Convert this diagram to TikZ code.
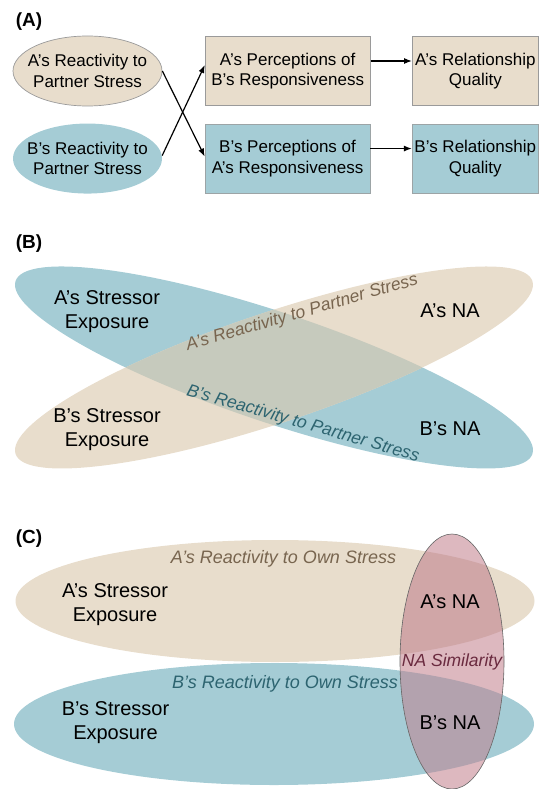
\documentclass[tikz,border=0pt]{standalone}
\usepackage{fontspec}
\setmainfont{Liberation Sans}
\usepackage{tikz}
\usetikzlibrary{positioning,shapes.geometric,arrows.meta}
\definecolor{tanfill}{HTML}{E8DDCC}
\definecolor{bluefill}{HTML}{A5CCD5}
\definecolor{mixfill}{HTML}{C6CABD}
\definecolor{pinkfill}{HTML}{DDB8BF}
\definecolor{pinktan}{HTML}{D0A6A7}
\definecolor{pinkblue}{HTML}{B3A2AE}
\definecolor{brownlbl}{HTML}{78654F}
\definecolor{teallbl}{HTML}{2D6470}
\definecolor{maroonlbl}{HTML}{6A2A3F}
\definecolor{edgegray}{HTML}{9A9A9A}

\begin{document}
\begin{tikzpicture}[x=1pt, y=-1pt, >={Latex[length=8pt,width=6pt]},
    tag/.style={font=\fontsize{19}{22}\selectfont\bfseries},
    txt/.style={font=\fontsize{17}{20.7}\selectfont, align=center},
    bigtxt/.style={font=\fontsize{20}{24}\selectfont, align=center},
    lbl/.style={font=\fontsize{17.5}{21}\selectfont\itshape},
    oval/.style={ellipse, minimum width=149pt, minimum height=70pt, inner sep=0pt},
    tanbox/.style={rectangle, fill=tanfill, draw=edgegray, line width=0.7pt, minimum height=69pt, inner sep=0pt, txt},
    bluebox/.style={tanbox, fill=bluefill, draw=edgegray!80!bluefill},
    link/.style={->, line width=1.2pt},
    ]
    \useasboundingbox (0,0) rectangle (540,789);

    %Panel A
    \node[tag] (tagA) at (29,21.5) {(A)};
    \node[oval, fill=tanfill, draw=edgegray, line width=0.7pt] (reactA) at (87.5,71) {};
    \node[oval, fill=bluefill] (reactB) [below=17pt of reactA] {};
    \node[txt] at (reactA) {A's Reactivity to\\Partner Stress};
    \node[txt] at (reactB) {B's Reactivity to\\Partner Stress};
    \node[tanbox, minimum width=165pt]  (percA) [right=42.5pt of reactA] {A's Perceptions of\\B's Responsiveness};
    \node[bluebox, minimum width=165pt] (percB) [right=42.5pt of reactB] {B's Perceptions of\\A's Responsiveness};
    \node[tanbox, minimum width=126pt]  (qualA) [right=41.5pt of percA] {A's Relationship\\Quality};
    \node[bluebox, minimum width=126pt] (qualB) [right=41.5pt of percB] {B's Relationship\\Quality};

    %Lines
    \draw[link] (reactA.east) -- ([yshift=2pt]percB.west);
    \draw[link] ([yshift=3pt]reactB.east) -- ([yshift=6pt]percA.west);
    \draw[link] ([yshift=10pt]percA.east) -- ([yshift=10pt]qualA.west);
    \draw[link] ([yshift=10pt]percB.east) -- ([yshift=10pt]qualB.west);

    %Panel B
    \node[tag] (tagB) at (29,243.5) {(B)};
    \coordinate (cB) at (274,367.5);
    \fill[bluefill, rotate around={-18.5:(cB)}] (cB) ellipse [x radius=272.5pt, y radius=55pt];
    \fill[tanfill, rotate around={18.5:(cB)}] (cB) ellipse [x radius=272.5pt, y radius=55pt];
    \begin{scope}
        \clip[rotate around={-18.5:(cB)}] (cB) ellipse [x radius=272.5pt, y radius=55pt];
        \fill[mixfill, rotate around={18.5:(cB)}] (cB) ellipse [x radius=272.5pt, y radius=55pt];
    \end{scope}
    \node[bigtxt] (expA) at (107,311.5) {A's Stressor\\Exposure};
    \node[bigtxt] (naA)  at (450,311)   {A's NA};
    \node[bigtxt] (expB) at (107,430)   {B's Stressor\\Exposure};
    \node[bigtxt] (naB)  at (450,429)   {B's NA};
    \node[lbl, text=brownlbl, rotate=16]  (partA) at (302,313) {A's Reactivity to Partner Stress};
    \node[lbl, text=teallbl, rotate=-16]  (partB) at (303,424) {B's Reactivity to Partner Stress};

    %Panel C
    \node[tag] (tagC) at (29,539) {(C)};
    \fill[tanfill]  (275,601) ellipse [x radius=259.5pt, y radius=61pt];
    \fill[bluefill] (274,724) ellipse [x radius=260pt, y radius=61pt];
    \fill[pinkfill] (452,661.5) ellipse [x radius=52pt, y radius=127.5pt];
    \begin{scope}
        \clip (452,661.5) ellipse [x radius=52pt, y radius=127.5pt];
        \fill[pinktan]  (275,601) ellipse [x radius=259.5pt, y radius=61pt];
        \fill[pinkblue] (274,724) ellipse [x radius=260pt, y radius=61pt];
    \end{scope}
    \draw[black!60, line width=0.6pt] (452,661.5) ellipse [x radius=52pt, y radius=127.5pt];
    \node[lbl, font=\fontsize{18}{21}\selectfont\itshape, text=brownlbl] (ownA) at (283.5,558.5) {A's Reactivity to Own Stress};
    \node[bigtxt] (expCA) at (115,605)   {A's Stressor\\Exposure};
    \node[bigtxt] (naCA)  at (450,602)   {A's NA};
    \node[lbl, text=maroonlbl] (sim) at (452,661.5) {NA Similarity};
    \node[lbl, font=\fontsize{18}{21}\selectfont\itshape, text=teallbl] (ownB) at (285,683.5) {B's Reactivity to Own Stress};
    \node[bigtxt] (expCB) at (115.5,722.5) {B's Stressor\\Exposure};
    \node[bigtxt] (naCB)  at (450,723)   {B's NA};
\end{tikzpicture}
\end{document}
